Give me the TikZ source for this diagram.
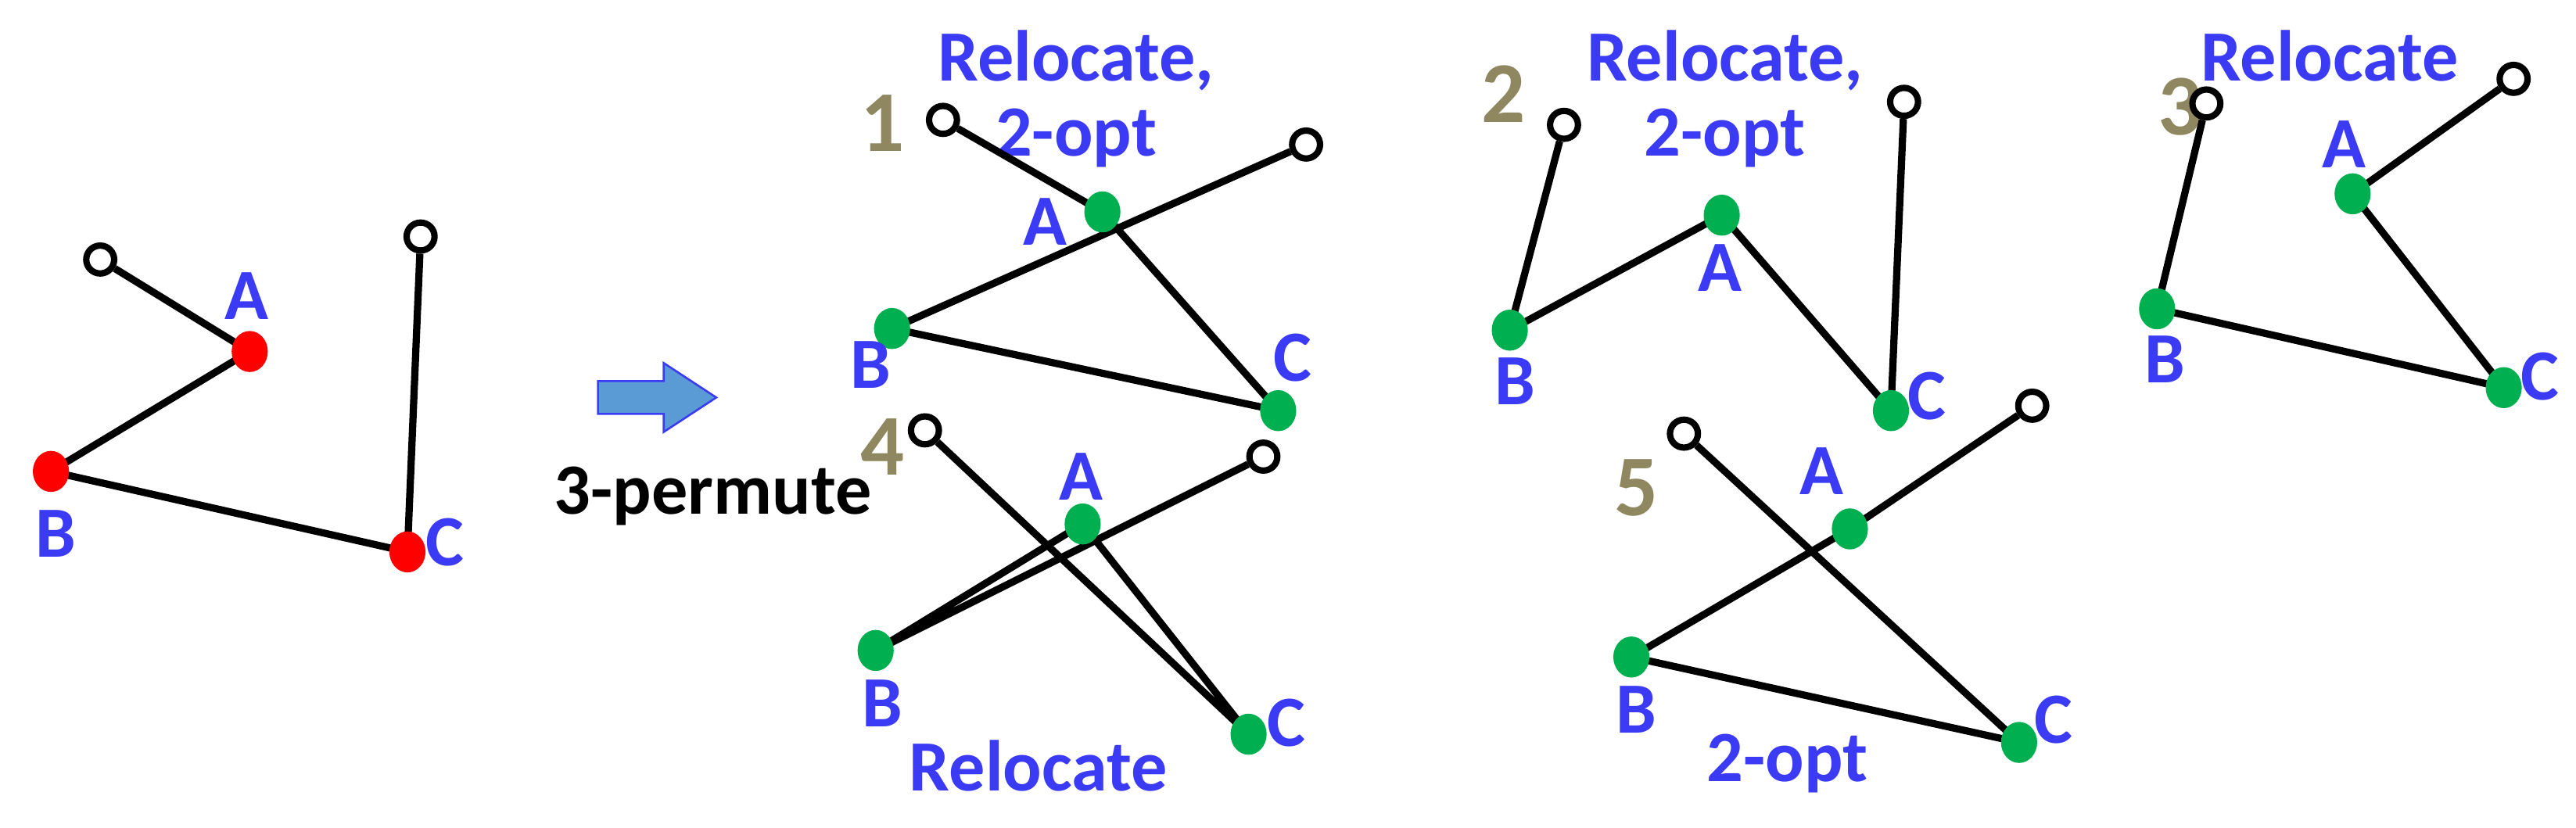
\documentclass[tikz,border=0pt]{standalone}
\usepackage{fontspec}
\setmainfont{Carlito}
\usetikzlibrary{shapes.geometric}
\definecolor{lblue}{HTML}{3B3BF5}
\definecolor{olive}{HTML}{8F8760}
\definecolor{dgreen}{HTML}{00B050}
\definecolor{abl}{HTML}{5B9BD5}
\begin{document}
\begin{tikzpicture}[x=0.02cm,y=-0.02cm,
  edge/.style={line width=2.5pt,black},
  op/.style={circle,draw=black,line width=2.2pt,fill=white,minimum size=0.34cm,inner sep=0pt},
  rd/.style={ellipse,fill=red,minimum width=0.44cm,minimum height=0.5cm,inner sep=0pt},
  gr/.style={ellipse,fill=dgreen,minimum width=0.44cm,minimum height=0.5cm,inner sep=0pt},
  lb/.style={text=lblue,font=\fontsize{25}{27}\selectfont\bfseries,inner sep=0pt},
  num/.style={text=olive,font=\fontsize{30}{32}\selectfont\bfseries,inner sep=0pt},
  captxt/.style={text=lblue,font=\fontsize{25}{26}\selectfont\bfseries,align=center,inner sep=0pt}]
\useasboundingbox (0,0) rectangle (1568,504);
% panel 0
\node[op] (o1) at (61,158) {}; \node[op] (o2) at (256,144) {};
\draw[edge] (o1) -- (152,214) -- (31,287) -- (248,336) -- (o2);
\node[rd] (a0) at (152,214) {}; \node[rd] (b0) at (31,287) {}; \node[rd] (c0) at (248,336) {};
\node[lb] at (150,180) {A}; \node[lb] at (34,325) {B}; \node[lb] at (271,330) {C};
\draw[draw=lblue,fill=abl,line width=0.7pt] (364,232) -- (404,232) -- (404,221) -- (436,242) -- (404,263) -- (404,252) -- (364,252) -- cycle;
\node[font=\fontsize{25}{27}\selectfont\bfseries,inner sep=0pt] (perm) at (434,302) {3-permute};
% panel 1
\node[num] at (537,75) {1};
\node[captxt] at (655,60) {Relocate,\\2-opt};
\node[op] (p1o1) at (574,73) {}; \node[op] (p1o2) at (795,88) {};
\coordinate (p1a) at (671,129); \coordinate (p1b) at (543,200); \coordinate (p1c) at (778,250);
\draw[edge] (p1o1) -- (p1a) -- (p1c) -- (p1b) -- (p1o2);
\node[gr] at (p1a) {}; \node[gr] at (p1b) {}; \node[gr] at (p1c) {};
\node[lb] at (636,135) {A}; \node[lb] at (530,222) {B}; \node[lb] at (787,218) {C};
% panel 4
\node[num] at (537,272) {4};
\node[op] (p4o1) at (563,262) {}; \node[op] (p4o2) at (769,278) {};
\coordinate (p4a) at (659,319); \coordinate (p4b) at (533,396); \coordinate (p4c) at (760,447);
\draw[edge] (p4o1) -- (p4c) -- (p4a) -- (p4b) -- (p4o2);
\node[gr] at (p4a) {}; \node[gr] at (p4b) {}; \node[gr] at (p4c) {};
\node[lb] at (658,290) {A}; \node[lb] at (537,428) {B}; \node[lb] at (783,440) {C};
\node[captxt] at (632,466) {Relocate};
% panel 2
\node[num] at (915,57) {2};
\node[captxt] at (1050,60) {Relocate,\\2-opt};
\node[op] (p2o1) at (952,76) {}; \node[op] (p2o2) at (1159,62) {};
\coordinate (p2a) at (1048,131); \coordinate (p2b) at (919,201); \coordinate (p2c) at (1151,250);
\draw[edge] (p2o1) -- (p2b) -- (p2a) -- (p2c) -- (p2o2);
\node[gr] at (p2a) {}; \node[gr] at (p2b) {}; \node[gr] at (p2c) {};
\node[lb] at (1047,163) {A}; \node[lb] at (922,232) {B}; \node[lb] at (1173,241) {C};
% panel 3
\node[num] at (1327,65) {3};
\node[captxt] at (1418,34) {Relocate};
\node[op] (p3o1) at (1343,63) {}; \node[op] (p3o2) at (1530,48) {};
\coordinate (p3a) at (1432,118); \coordinate (p3b) at (1313,188); \coordinate (p3c) at (1524,236);
\draw[edge] (p3o1) -- (p3b) -- (p3c) -- (p3a) -- (p3o2);
\node[gr] at (p3a) {}; \node[gr] at (p3b) {}; \node[gr] at (p3c) {};
\node[lb] at (1427,88) {A}; \node[lb] at (1318,219) {B}; \node[lb] at (1546,229) {C};
% panel 5
\node[num] at (996,297) {5};
\node[captxt] at (1088,465) {2-opt};
\node[op] (p5o1) at (1025,264) {}; \node[op] (p5o2) at (1237,247) {};
\coordinate (p5a) at (1126,322); \coordinate (p5b) at (993,400); \coordinate (p5c) at (1229,452);
\draw[edge] (p5o1) -- (p5c) -- (p5b) -- (p5a) -- (p5o2);
\node[gr] at (p5a) {}; \node[gr] at (p5b) {}; \node[gr] at (p5c) {};
\node[lb] at (1109,287) {A}; \node[lb] at (996,432) {B}; \node[lb] at (1250,438) {C};
\end{tikzpicture}
\end{document}
